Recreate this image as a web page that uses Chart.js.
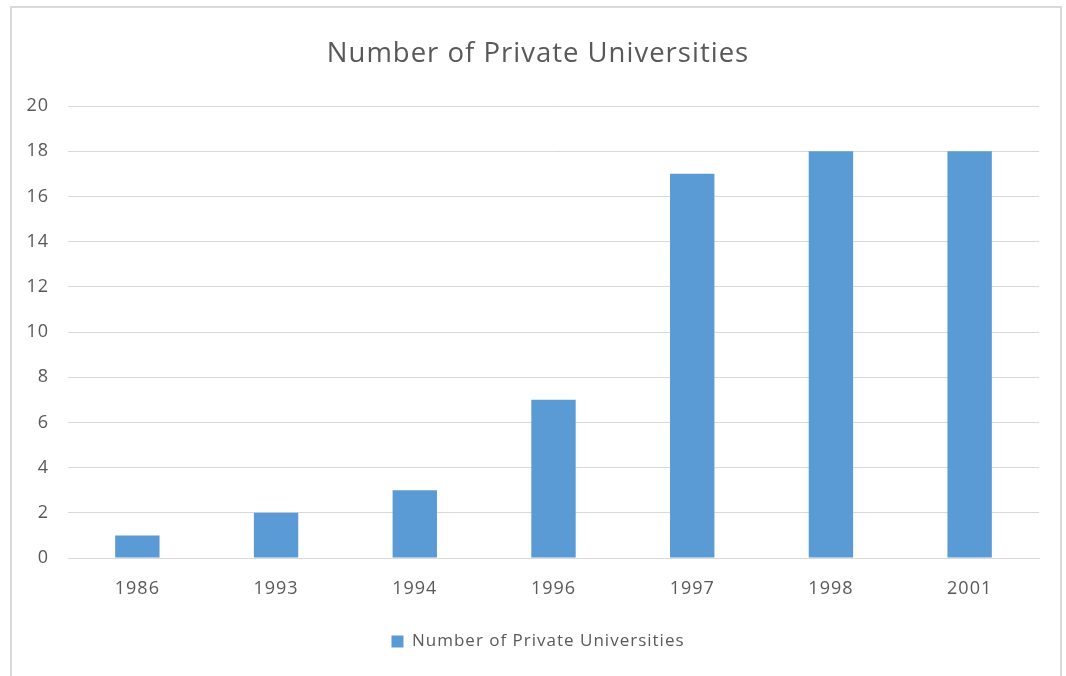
<!DOCTYPE html>
<html lang="en">
<head>
<meta charset="UTF-8">
<title>Number of Private Universities</title>
<style>
  html, body { margin: 0; padding: 0; background: #fff; }
  #wrap { position: relative; width: 1066px; height: 676px; overflow: hidden; }
  #frame { position: absolute; left: 10px; top: 6px; width: 1052px; height: 700px; border: 2px solid #d9d9d9; box-sizing: border-box; }
  canvas { position: absolute; left: 0; top: 0; }
</style>
</head>
<body>
<div id="wrap">
  <div id="frame"></div>
  <canvas id="myChart" width="1066" height="676"></canvas>
</div>

<script src="https://cdn.jsdelivr.net/npm/chart.js@4/dist/chart.umd.min.js"></script>
<script>
    var years = ['1986', '1993', '1994', '1996', '1997', '1998', '2001'];
    var universities = [1, 2, 3, 7, 17, 18, 18];
    var seriesName = 'Number of Private Universities';
    var yMin = 0, yMax = 20, yStep = 2;

    var textColor = '#595959';
    var fontFamily = '"Open Sans", Lato, sans-serif';

    // the original font is wider, so spread the letters a bit
    var spacing = {
        id: 'spacing',
        beforeUpdate: function (c) { c.ctx.letterSpacing = '1px'; },
        beforeDraw: function (c) { c.ctx.letterSpacing = '1px'; }
    };

    var ctx = document.getElementById('myChart').getContext('2d');
    var chart = new Chart(ctx, {
        type: 'bar',
        data: {
            labels: years,
            datasets: [{
                label: seriesName,
                data: universities,
                yAxisID: 'y',
                backgroundColor: '#5b9bd5',
                borderWidth: 0,
                barPercentage: 0.32,
                categoryPercentage: 1
            }]
        },
        plugins: [spacing],
        options: {
            responsive: false,
            animation: false,
            layout: { padding: { left: 10, right: 0, top: 0, bottom: 16 } },
            plugins: {
                title: {
                    display: true,
                    text: seriesName,
                    color: textColor,
                    font: { family: fontFamily, size: 27.5, weight: 'normal' },
                    padding: { top: 38, bottom: 35 }
                },
                legend: {
                    position: 'bottom',
                    labels: {
                        color: textColor,
                        font: { family: fontFamily, size: 17 },
                        boxWidth: 12,
                        boxHeight: 12,
                        padding: 10
                    }
                },
                tooltip: { enabled: false }
            },
            scales: {
                x: {
                    grid: { display: false },
                    border: { color: '#d9d9d9', width: 1 },
                    ticks: { color: textColor, font: { family: fontFamily, size: 18 }, padding: 12 },
                    afterFit: function (s) { s.height = 65; }
                },
                y: {
                    min: yMin,
                    max: yMax,
                    ticks: { stepSize: yStep, color: textColor, font: { family: fontFamily, size: 18 }, padding: 19 },
                    grid: { color: '#d9d9d9', drawTicks: false },
                    border: { display: false },
                    afterFit: function (s) { s.width = 58; }
                },
                // empty right axis, only to leave the right margin so title and legend stay centred
                yRight: {
                    position: 'right',
                    display: true,
                    grid: { display: false },
                    ticks: { display: false },
                    border: { display: false },
                    afterFit: function (s) { s.width = 27; }
                }
            }
        }
    });
</script>
</body>
</html>
